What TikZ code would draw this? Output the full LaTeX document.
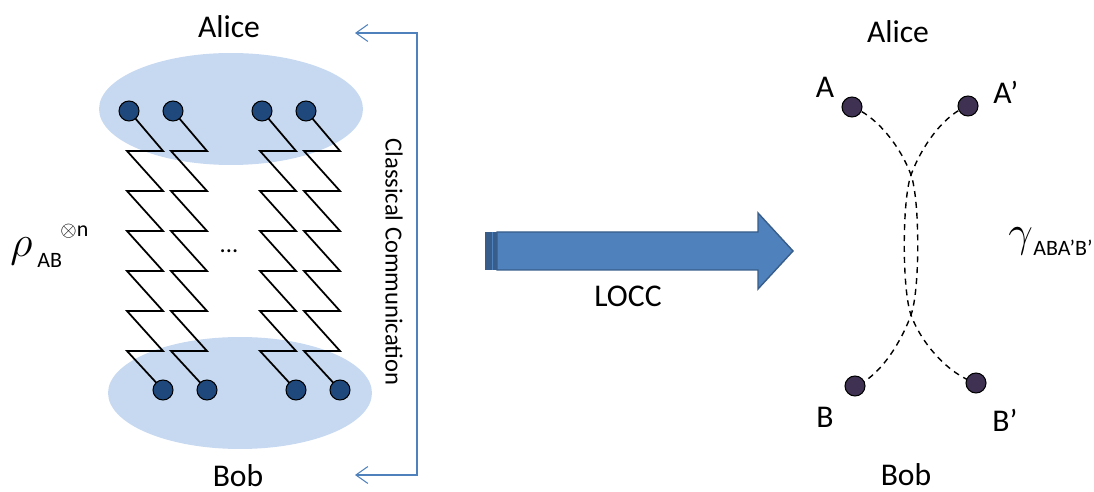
\documentclass[tikz,border=0pt]{standalone}
\usepackage{fontspec}
\setmainfont{Carlito}
\usepackage{xcolor}
\usepackage{tikz}
\usetikzlibrary{shapes.geometric, arrows.meta, positioning, backgrounds}
\definecolor{partycolor}{RGB}{198, 217, 241}
\definecolor{qubitcolor}{RGB}{31, 73, 125}
\definecolor{keycolor}{RGB}{63, 49, 81}
\definecolor{arrowcolor}{RGB}{79, 129, 189}
\definecolor{arrowborder}{RGB}{56, 93, 138}

\begin{document}
\begin{tikzpicture}[
    x=0.02cm, y=-0.02cm,
    party/.style={ellipse, fill=partycolor, minimum width=5.28cm, minimum height=2.24cm, inner sep=0pt},
    qubit/.style={circle, draw, line width=0.6pt, fill=qubitcolor, minimum size=0.4cm, inner sep=0pt},
    key/.style={circle, draw, line width=0.6pt, fill=keycolor, minimum size=0.4cm, inner sep=0pt},
    spring/.style={line width=1pt},
    shield/.style={dashed, dash pattern=on 3.4pt off 2.8pt, line width=0.8pt},
    classical/.style={arrowcolor, line width=0.6pt},
    lbl/.style={font=\fontsize{18}{20}\selectfont, inner sep=0pt},
    sub/.style={font=\fontsize{12.5}{14}\selectfont, inner sep=0pt}
]
    \useasboundingbox (0,0) rectangle (1094,492);

    % Parties
    \begin{pgfonlayer}{background}
    \node[party] (aliceset) at (231,109) {};
    \node[party] (bobset) at (240,393) {};
    \end{pgfonlayer}
    \node[lbl, anchor=base] (alicel) at (229,38) {Alice};
    \node[lbl, anchor=base] (bobl) at (238,486) {Bob};

    % Copies of rho
    \foreach \x/\i in {129/1,173/2,262/3,306/4} {
        \node[qubit] (a\i) at (\x,111) {};
        \node[qubit] (b\i) at (\x+34,390) {};
    }
    \begin{pgfonlayer}{background}
    \foreach \i in {1,...,4} {
        \draw[spring] (a\i.center) -- ++(34,40)
            \foreach \k in {1,...,5} { -- ++(-36,0) -- ++(36,40) }
            -- ++(-36,0) -- (b\i.center);
    }
    \end{pgfonlayer}
    \node[font=\fontsize{14}{14}\selectfont, anchor=base, inner sep=0pt] (more) at (229,253) {...};

    % State
    \node[anchor=base west, inner sep=0pt, font=\fontsize{34}{34}\selectfont] (rho) at (10,257) {$\rho$};
    \node[sub, anchor=base west] (rhoab) at (37,268) {AB};
    \node[sub, anchor=base west] (rhon) at (60,237) {$\otimes$n};

    % Classical communication
    \coordinate (cctop) at (355,33);
    \coordinate (ccside) at (417,254);
    \coordinate (ccbot) at (355,475);
    \draw[classical, {Straight Barb[length=2.4mm,width=3.4mm]}-{Straight Barb[length=2.4mm,width=3.4mm]}]
        (cctop) -| (ccside) |- (ccbot);
    \node[rotate=-90, font=\fontsize{14}{14}\selectfont, inner sep=0pt] (cclabel) at (394,262) {Classical Communication};

    % LOCC
    \filldraw[fill=arrowcolor, draw=arrowborder, line width=0.8pt]
        (497,232) -- (758,232) -- (758,213) -- (793,251) -- (758,289) -- (758,270) -- (497,270) -- cycle;
    \fill[arrowborder] (485,232) rectangle (497,270);
    \draw[arrowcolor, line width=0.4pt] (492,232) -- (492,270);
    \node[lbl, anchor=base] (locc) at (628,307) {LOCC};

    % Private state
    \node[key] (ka) at (852,107) {};
    \node[key] (kap) at (968,106) {};
    \node[key] (kb) at (855,386) {};
    \node[key] (kbp) at (976,383) {};
    \coordinate (xtop) at (911,175);
    \coordinate (xbot) at (911,315);
    \begin{pgfonlayer}{background}
    \draw[shield] (ka.center) .. controls (875,115) and (900,145) .. (xtop)
        .. controls (920,200) and (920,290) .. (xbot)
        .. controls (900,345) and (878,378) .. (kb.center);
    \draw[shield] (kap.center) .. controls (945,114) and (922,145) .. (xtop)
        .. controls (902,200) and (902,290) .. (xbot)
        .. controls (922,345) and (950,375) .. (kbp.center);
    \end{pgfonlayer}
    \node[lbl, anchor=base] (la) at (825,98) {A};
    \node[lbl, anchor=base west] (lap) at (993,104) {A’};
    \node[lbl, anchor=base] (lb) at (825,428) {B};
    \node[lbl, anchor=base west] (lbp) at (992,432) {B’};
    \node[lbl, anchor=base] (alicer) at (898,43) {Alice};
    \node[lbl, anchor=base] (bobr) at (906,485) {Bob};
    \node[anchor=base west, inner sep=0pt, font=\fontsize{28}{28}\selectfont] (gamma) at (1008,247) {$\gamma$};
    \node[sub, anchor=base west] (gammasub) at (1033,256) {ABA’B’};
\end{tikzpicture}
\end{document}
